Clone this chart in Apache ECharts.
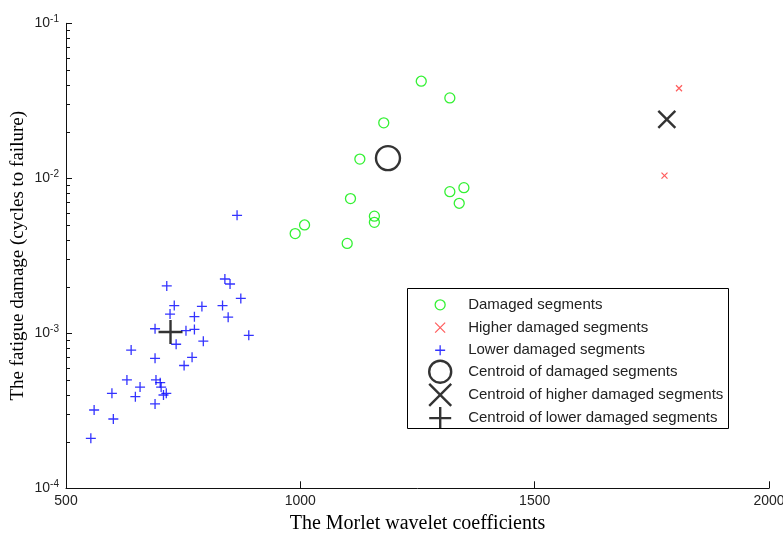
<!DOCTYPE html>
<html><head><meta charset="utf-8">
<script src="https://cdn.jsdelivr.net/npm/echarts@6/dist/echarts.min.js"></script>
<style>html,body{margin:0;padding:0;background:#fff}#c{width:783px;height:535px}</style>
</head><body><div id="c"></div>
<script>
// ---- data ----
const seriesNames = ['Damaged segments', 'Higher damaged segments', 'Lower damaged segments',
  'Centroid of damaged segments', 'Centroid of higher damaged segments', 'Centroid of lower damaged segments'];
const damagedX = [1258, 1319, 1178, 1127, 1319, 1349, 1339, 1107, 1158, 1158, 1009, 989, 1100];
const damagedY = [0.0423, 0.0330, 0.0228, 0.0133, 0.0082, 0.0087, 0.0069, 0.0074, 0.0057, 0.0052, 0.0050, 0.0044, 0.0038];
const higherX = [1808, 1777];
const higherY = [0.0381, 0.0104];
const lowerX = [715, 731, 790, 722, 774, 690, 756, 774, 793, 735, 639, 690, 769, 752, 630, 692, 701, 703, 658, 598, 648, 708, 714, 690, 560, 601, 553,
  865, 839, 850, 873, 834, 846, 890];
const lowerY = [0.00202, 0.00151, 0.00149, 0.00133, 0.00128, 0.00107, 0.00104, 0.00106, 0.00089, 0.00085, 0.00078, 0.00069, 0.00070, 0.00062, 0.00050, 0.00050, 0.00048, 0.00045, 0.00045, 0.00041, 0.00039, 0.00040, 0.00041, 0.00035, 0.00032, 0.00028, 0.00021,
  0.00577, 0.00224, 0.00208, 0.00168, 0.00151, 0.00127, 0.00097];
const centroidDamaged = [1187, 0.0135];
const centroidHigher = [1782, 0.0240];
const centroidLower = [723, 0.00102];
const yMinorTicks = [2e-4,3e-4,4e-4,5e-4,6e-4,7e-4,8e-4,9e-4,2e-3,3e-3,4e-3,5e-3,6e-3,7e-3,8e-3,9e-3,2e-2,3e-2,4e-2,5e-2,6e-2,7e-2,8e-2,9e-2];

// ---- styling ----
const zip = (xs, ys) => xs.map((x, i) => [x, ys[i]]);
const PLUS = 'path://M0,5L10,5M5,0L5,10';
const CROSS = 'path://M0,0L10,10M0,10L10,0';
const CIRC = 'path://M10,5A5,5,0,1,1,0,5A5,5,0,1,1,10,5Z';
const NOFILL = 'rgba(0,0,0,0)';
const styles = [
  {symbol: CIRC, size: 10, color: '#00ee00', w: 1.3},
  {symbol: CROSS, size: 6, color: '#ff3333', w: 1.2},
  {symbol: PLUS, size: 10, color: '#0000ff', w: 1.3},
  {symbol: CIRC, size: 24, color: '#000000', w: 2.4},
  {symbol: CROSS, size: 17, color: '#000000', w: 2.4},
  {symbol: PLUS, size: 24, color: '#000000', w: 2.4}
];
const datasets = [zip(damagedX, damagedY), zip(higherX, higherY), zip(lowerX, lowerY), [centroidDamaged], [centroidHigher], [centroidLower]];
const series = [0, 1, 2, 3, 4, 5].map(i => ({
  name: seriesNames[i], type: 'scatter', data: datasets[i],
  symbol: styles[i].symbol, symbolSize: styles[i].size,
  itemStyle: {color: NOFILL, borderColor: styles[i].color, borderWidth: styles[i].w},
  emphasis: {disabled: true}, silent: true, z: i >= 3 ? 5 : 3
}));
// minor log ticks of the y axis, placed through the axis scale
series.push({
  type: 'custom', name: 'minorTicks', silent: true, z: 2, clip: false,
  data: yMinorTicks.map(v => [500, v]),
  renderItem: (params, api) => {
    const p = api.coord([api.value(0), api.value(1)]);
    const y = Math.round(p[1]) + 0.5;
    return {type: 'line', shape: {x1: p[0], y1: y, x2: p[0] + 4, y2: y},
      style: {stroke: '#111', lineWidth: 1}};
  }
});
const legendItem = i => ({
  name: seriesNames[i], icon: styles[i].symbol,
  itemStyle: {color: NOFILL, borderColor: styles[i].color, borderWidth: styles[i].w}
});
const legendText = {fontFamily: 'Liberation Sans, Arial, sans-serif', fontSize: 15, color: '#222', lineHeight: 22.7};
const serif = 'Liberation Serif, Times New Roman, serif';
const sans = 'Liberation Sans, Arial, sans-serif';

const chart = echarts.init(document.getElementById('c'), null, {renderer: 'canvas'});
chart.setOption({
  animation: false,
  backgroundColor: '#fff',
  grid: {left: 66, right: 14, top: 23.3, bottom: 46.7, containLabel: false, outerBoundsMode: 'none'},
  xAxis: {
    type: 'value', min: 500, max: 2000, interval: 500,
    name: 'The Morlet wavelet coefficients', nameLocation: 'middle', nameGap: 25, nameMoveOverlap: false,
    nameTextStyle: {fontFamily: serif, fontSize: 20, color: '#000'},
    axisLine: {show: true, lineStyle: {color: '#111', width: 1}},
    axisTick: {show: true, inside: true, length: 7, lineStyle: {color: '#111', width: 1}},
    axisLabel: {fontFamily: sans, fontSize: 14, color: '#222', margin: 6, formatter: v => String(v)},
    splitLine: {show: false}
  },
  yAxis: {
    type: 'log', logBase: 10, min: 1e-4, max: 1e-1, splitNumber: 3,
    name: 'The fatigue damage (cycles to failure)', nameLocation: 'middle', nameGap: 38, nameMoveOverlap: false,
    nameTextStyle: {fontFamily: serif, fontSize: 19, color: '#000'},
    axisLine: {show: true, lineStyle: {color: '#111', width: 1}},
    axisTick: {show: true, inside: true, length: 6, lineStyle: {color: '#111', width: 1}},
    axisLabel: {
      margin: 7,
      formatter: v => '{b|10}{s|' + Math.round(Math.log10(v)) + '}',
      rich: {
        b: {fontFamily: sans, fontSize: 14, color: '#222', lineHeight: 18, verticalAlign: 'middle'},
        s: {fontFamily: sans, fontSize: 10, color: '#222', lineHeight: 10, verticalAlign: 'top'}
      }
    },
    splitLine: {show: false}
  },
  legend: [{
    orient: 'vertical', left: 429.5, top: 288.5, itemWidth: 46, itemHeight: 10, itemGap: 0,
    selectedMode: false, textStyle: legendText, symbolKeepAspect: true,
    data: [0, 1, 2].map(legendItem)
  }, {
    orient: 'vertical', left: 423, top: 354.5, itemWidth: 46, itemHeight: 22, itemGap: -1.2,
    selectedMode: false, textStyle: legendText, symbolKeepAspect: true,
    data: [3, 4, 5].map(legendItem)
  }],
  graphic: [{
    type: 'rect', left: 407, top: 288, z: 0,
    shape: {width: 321, height: 140},
    style: {fill: '#fff', stroke: '#000', lineWidth: 1}
  }],
  series: series
});
</script>
</body></html>
